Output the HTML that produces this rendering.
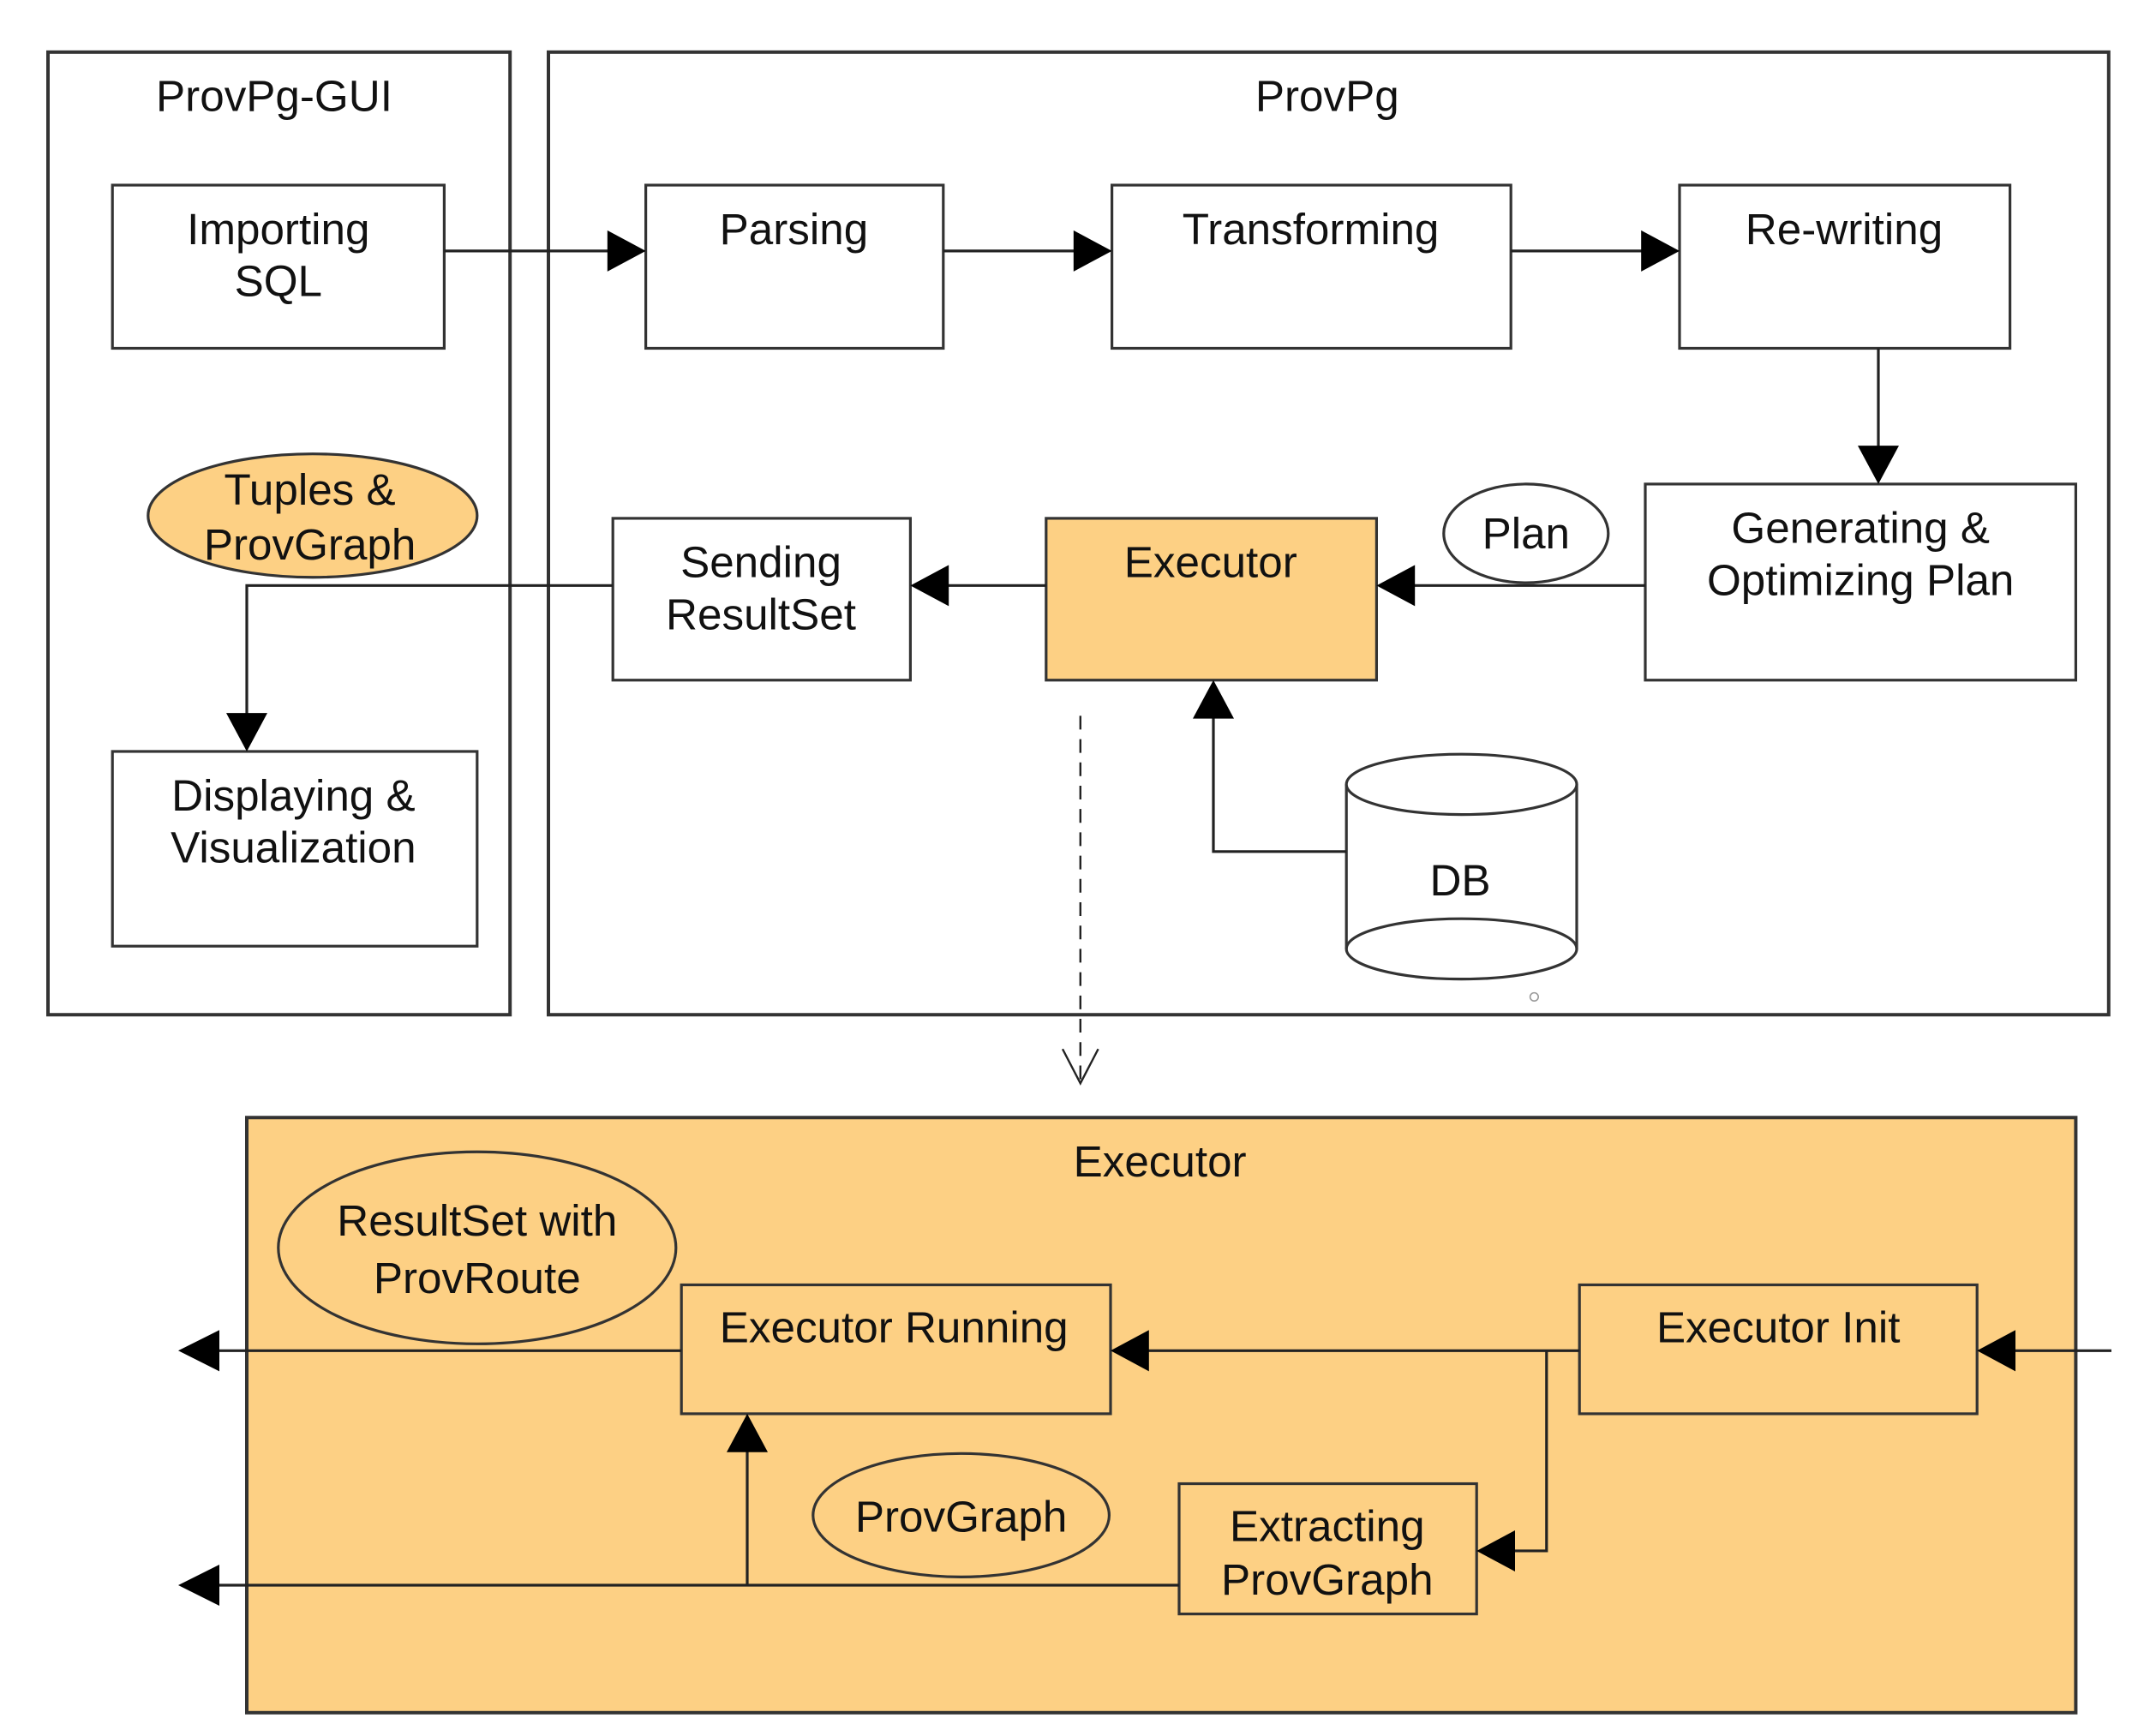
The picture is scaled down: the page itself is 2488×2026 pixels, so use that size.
<!DOCTYPE html>
<html><head><meta charset="utf-8"><style>
html,body{margin:0;padding:0;background:#fff;}
svg{display:block;}
text{font-family:"Liberation Sans",Arial,sans-serif;font-size:32px;fill:#111;text-anchor:middle;}
</style></head><body>
<svg width="2488" height="2026" viewBox="0 0 1555 1266" preserveAspectRatio="none" xmlns="http://www.w3.org/2000/svg">
<defs>
<marker id="a" markerWidth="10" markerHeight="10" refX="9" refY="5" orient="auto" markerUnits="userSpaceOnUse" viewBox="0 0 10 10">
</marker>
</defs>
<g fill="none" stroke="#333" stroke-width="2.5">
<rect x="35" y="38" width="337" height="702"/>
<rect x="400" y="38" width="1138" height="702"/>
</g>
<rect x="180" y="815" width="1334" height="434" fill="#fdd084" stroke="#333" stroke-width="2.5"/>
<g fill="#fff" stroke="#333" stroke-width="2">
<rect x="82" y="135" width="242" height="119"/>
<rect x="471" y="135" width="217" height="119"/>
<rect x="811" y="135" width="291" height="119"/>
<rect x="1225" y="135" width="241" height="119"/>
<rect x="1200" y="353" width="314" height="143"/>
<rect x="447" y="378" width="217" height="118"/>
<rect x="82" y="548" width="266" height="142"/>
<ellipse cx="1113" cy="389" rx="60" ry="36"/>
</g>
<rect x="763" y="378" width="241" height="118" fill="#fdd084" stroke="#333" stroke-width="2"/>
<ellipse cx="228" cy="376" rx="120" ry="45" fill="#fdd084" stroke="#333" stroke-width="2"/>
<!-- DB -->
<g stroke="#333" stroke-width="2" fill="#fff">
<path d="M982 572 L982 692 A84 22 0 0 0 1150 692 L1150 572"/>
<ellipse cx="1066" cy="572" rx="84" ry="22"/>
<path d="M982 692 A84 22 0 0 1 1150 692" fill="none"/>
</g>
<circle cx="1119" cy="727" r="3" fill="none" stroke="#999"/>
<!-- lower boxes -->
<g fill="none" stroke="#333" stroke-width="2">
<ellipse cx="348" cy="910" rx="145" ry="70"/>
<ellipse cx="701" cy="1105" rx="108" ry="45"/>
<rect x="497" y="937" width="313" height="94"/>
<rect x="1152" y="937" width="290" height="94"/>
<rect x="860" y="1082" width="217" height="95"/>
</g>
<!-- lines -->
<g fill="none" stroke="#222" stroke-width="2">
<path d="M324 183 H445"/><path d="M688 183 H785"/><path d="M1102 183 H1199"/>
<path d="M1370 254 V327"/>
<path d="M1200 427 H1030"/>
<path d="M763 427 H690"/>
<path d="M447 427 H180 V522"/>
<path d="M982 621 H885 V522"/>
<path d="M788 522 V788" stroke-dasharray="10,7" stroke-width="1.5"/>
<path d="M775 765 L788 790 L801 765" stroke-width="1.5"/>
<path d="M1540 985 H1468"/>
<path d="M1152 985 H836"/>
<path d="M497 985 H158"/>
<path d="M1128 985 V1131 H1103"/>
<path d="M860 1156 H158"/>
<path d="M545 1156 V1057"/>
</g>
<g fill="#000">
<polygon points="471,183 443,168 443,198"/>
<polygon points="811,183 783,168 783,198"/>
<polygon points="1225,183 1197,168 1197,198"/>
<polygon points="1370,353 1355,325 1385,325"/>
<polygon points="1004,427 1032,412 1032,442"/>
<polygon points="664,427 692,412 692,442"/>
<polygon points="180,548 165,520 195,520"/>
<polygon points="885,496 870,524 900,524"/>
<polygon points="1442,985 1470,970 1470,1000"/>
<polygon points="810,985 838,970 838,1000"/>
<polygon points="130,985 160,970 160,1000"/>
<polygon points="1077,1131 1105,1116 1105,1146"/>
<polygon points="130,1156 160,1141 160,1171"/>
<polygon points="545,1031 530,1059 560,1059"/>
</g>
<text x="200" y="81">ProvPg-GUI</text>
<text x="968" y="81">ProvPg</text>
<text x="203" y="178">Importing</text><text x="203" y="216">SQL</text>
<text x="579" y="178">Parsing</text>
<text x="956" y="178">Transforming</text>
<text x="1345" y="178">Re-writing</text>
<text x="1357" y="396">Generating &amp;</text><text x="1357" y="434">Optimizing Plan</text>
<text x="1113" y="400">Plan</text>
<text x="883" y="421">Executor</text>
<text x="555" y="421">Sending</text><text x="555" y="459">ResultSet</text>
<text x="226" y="368">Tuples &amp;</text><text x="226" y="408">ProvGraph</text>
<text x="214" y="591">Displaying &amp;</text><text x="214" y="629">Visualization</text>
<text x="1065" y="653">DB</text>
<text x="846" y="858">Executor</text>
<text x="348" y="901">ResultSet with</text><text x="348" y="943">ProvRoute</text>
<text x="652" y="979">Executor Running</text>
<text x="1297" y="979">Executor Init</text>
<text x="701" y="1117">ProvGraph</text>
<text x="968" y="1124">Extracting</text><text x="968" y="1163">ProvGraph</text>
</svg>
</body></html>
